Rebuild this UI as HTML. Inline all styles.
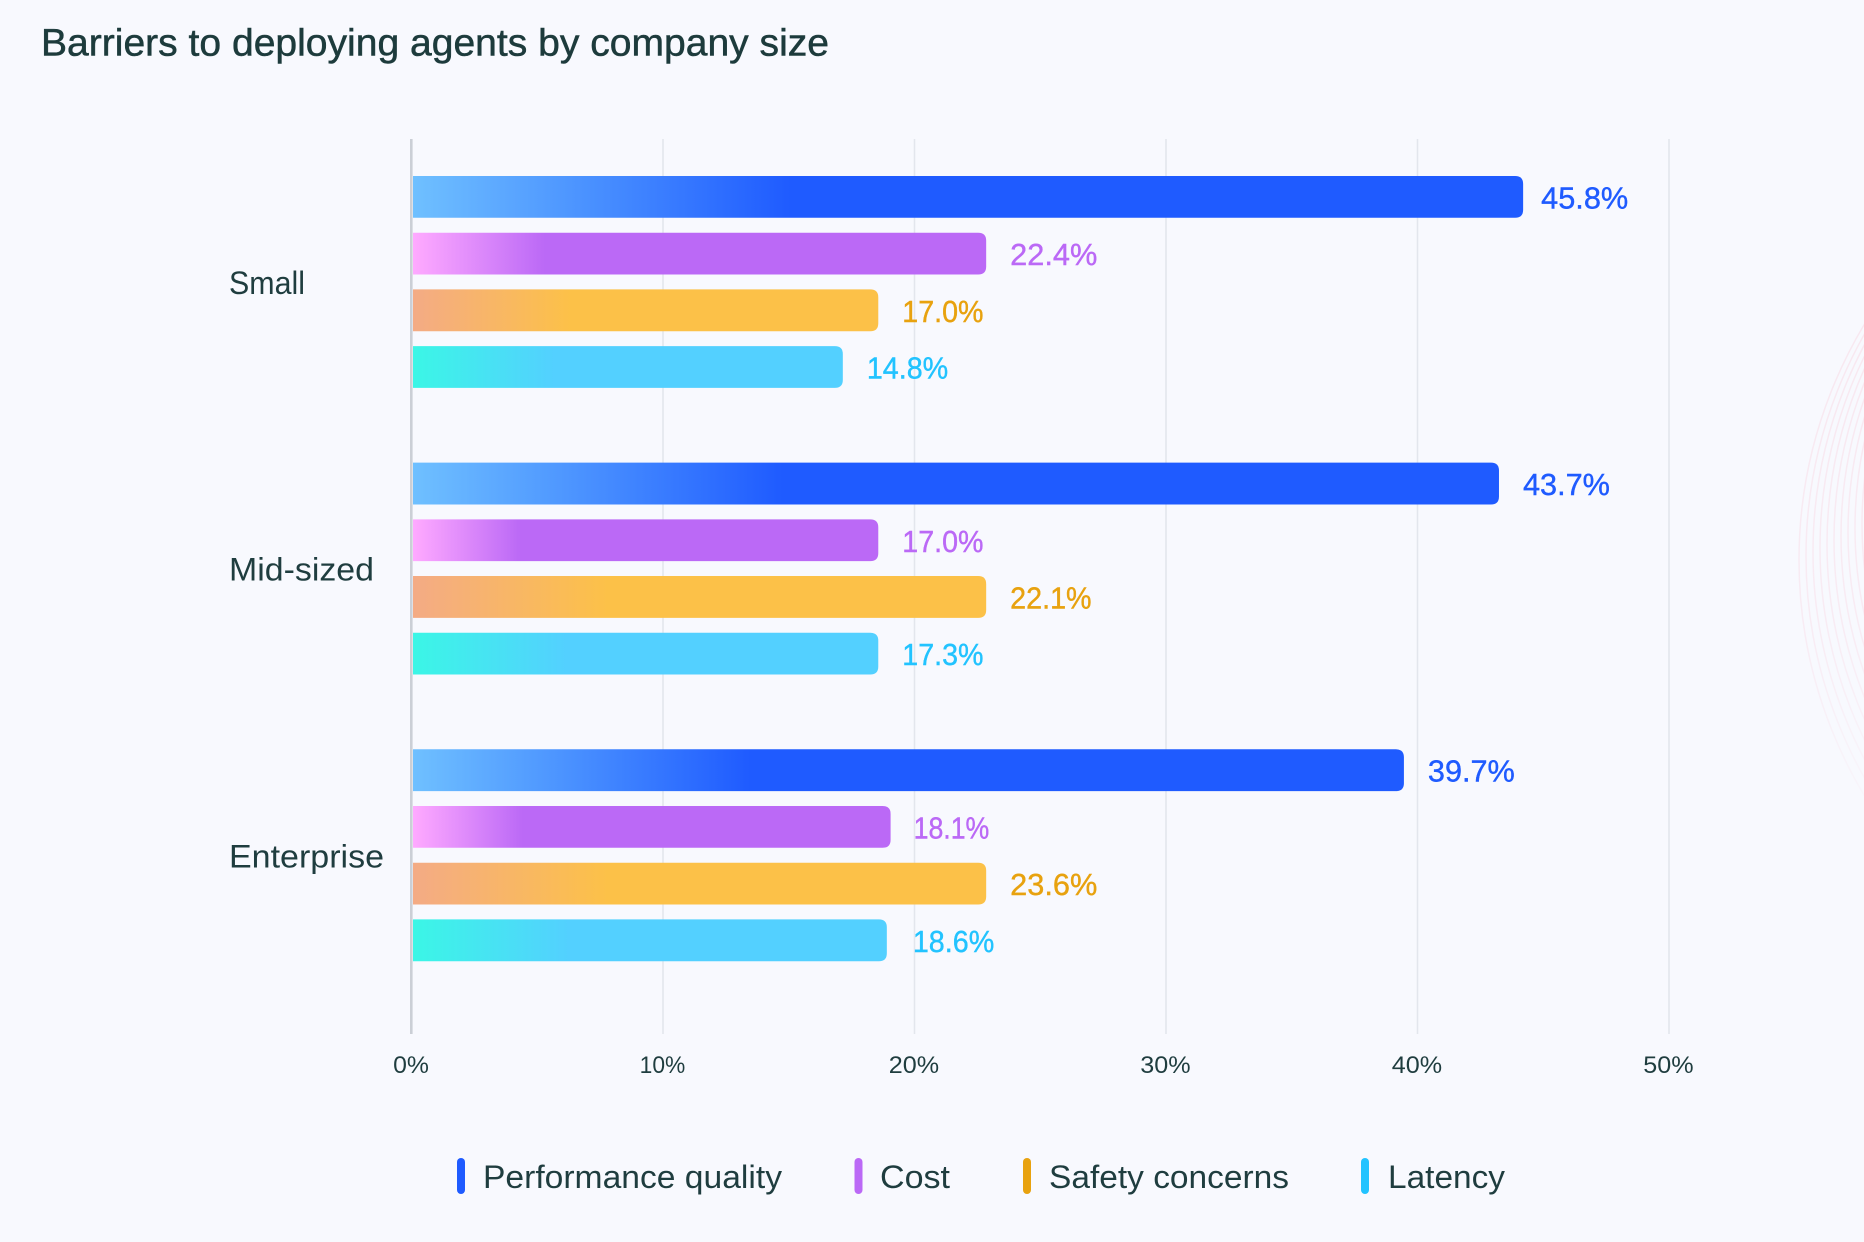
<!DOCTYPE html>
<html lang="en">
<head>
<meta charset="utf-8">
<title>Barriers to deploying agents by company size</title>
<style>
  html, body { margin: 0; padding: 0; background: #f8f9fe; }
  body { width: 1864px; height: 1242px; overflow: hidden; }
  svg { display: block; font-family: "Liberation Sans", sans-serif; }
</style>
</head>
<body>
<svg id="chart" xmlns="http://www.w3.org/2000/svg" width="1864" height="1242" viewBox="0 0 1864 1242">
  <defs>
    <linearGradient id="grad-performance" x1="0" y1="0" x2="1" y2="0">
      <stop offset="0" stop-color="#6fc0ff"/><stop offset="0.34" stop-color="#1f5bff"/><stop offset="1" stop-color="#1f5bff"/>
    </linearGradient>
    <linearGradient id="grad-cost" x1="0" y1="0" x2="1" y2="0">
      <stop offset="0" stop-color="#ffaaff"/><stop offset="0.23" stop-color="#bb69f6"/><stop offset="1" stop-color="#bb69f6"/>
    </linearGradient>
    <linearGradient id="grad-safety" x1="0" y1="0" x2="1" y2="0">
      <stop offset="0" stop-color="#f4ab85"/><stop offset="0.34" stop-color="#fcc148"/><stop offset="1" stop-color="#fcc148"/>
    </linearGradient>
    <linearGradient id="grad-latency" x1="0" y1="0" x2="1" y2="0">
      <stop offset="0" stop-color="#3bf6e6"/><stop offset="0.33" stop-color="#53d0ff"/><stop offset="1" stop-color="#53d0ff"/>
    </linearGradient>
    <linearGradient id="arc-fade" gradientUnits="userSpaceOnUse" x1="0" y1="320" x2="0" y2="860">
      <stop offset="0" stop-color="#f8e8f0"/><stop offset="0.55" stop-color="#f8ebf3"/><stop offset="1" stop-color="#f8f9fe"/>
    </linearGradient>
  </defs>

  <rect x="0" y="0" width="1864" height="1242" fill="#f8f9fe"/>
  <g id="decor" fill="none" stroke="url(#arc-fade)" stroke-width="1.5"></g>

  <text x="41" y="55.5" font-size="38" fill="#1d3b3c" stroke="#1d3b3c" stroke-width="0.5" textLength="788" lengthAdjust="spacingAndGlyphs">Barriers to deploying agents by company size</text>

  <g id="grid"></g>
  <g id="xticks"></g>
  <g id="cats"></g>
  <g id="bars"></g>
  <g id="labels"></g>
  <rect x="410" y="139" width="2.6" height="895" fill="#cbcfd6"/>

  <g font-size="32" fill="#1f3d3f">
    <g>
      <rect x="457" y="1158" width="8" height="36" rx="4" fill="#1f5bff"/>
      <text x="483" y="1188" textLength="299" lengthAdjust="spacingAndGlyphs">Performance quality</text>
    </g>
    <g>
      <rect x="854.5" y="1158" width="8" height="36" rx="4" fill="#bb69f6"/>
      <text x="880" y="1188" textLength="70" lengthAdjust="spacingAndGlyphs">Cost</text>
    </g>
    <g>
      <rect x="1023" y="1158" width="8" height="36" rx="4" fill="#e8a20f"/>
      <text x="1049" y="1188" textLength="240" lengthAdjust="spacingAndGlyphs">Safety concerns</text>
    </g>
    <g>
      <rect x="1361" y="1158" width="8" height="36" rx="4" fill="#22c3ff"/>
      <text x="1388" y="1188" textLength="117" lengthAdjust="spacingAndGlyphs">Latency</text>
    </g>
  </g>
</svg>

<script>
// Chart data: categories, drawn bar lengths, printed labels, ticks.
const categories = ["Small", "Mid-sized", "Enterprise"];
const seriesNames = ["performance-quality", "cost", "safety-concerns", "latency"];
const performanceValues = [44.2, 43.24, 39.46];
const costValues = [22.85, 18.56, 19.05];
const safetyValues = [18.56, 22.85, 22.85];
const latencyValues = [17.15, 18.56, 18.9];
const performanceLabels = ["45.8%", "43.7%", "39.7%"];
const costLabels = ["22.4%", "17.0%", "18.1%"];
const safetyLabels = ["17.0%", "22.1%", "23.6%"];
const latencyLabels = ["14.8%", "17.3%", "18.6%"];
const xTicks = [0, 10, 20, 30, 40, 50];

const SVGNS = "http://www.w3.org/2000/svg";
const seriesValues = [performanceValues, costValues, safetyValues, latencyValues];
const seriesLabels = [performanceLabels, costLabels, safetyLabels, latencyLabels];
const seriesFills = ["url(#grad-performance)", "url(#grad-cost)", "url(#grad-safety)", "url(#grad-latency)"];
const seriesText = ["#1f5bff", "#bb69f6", "#e8a20f", "#22c3ff"];

// Layout tuning (not data): widths of the category labels and small label nudges.
const categoryTextFit = { "Small": 76, "Mid-sized": 145, "Enterprise": 155 };
const labelNudge = { "45.8%": -6, "18.6%": 2, "18.1%": -1 };

// Axis functions
function xScale(v) { return 411.5 + v * 25.15; }
function groupTop(c) { return 176 + c * 286.65; }
function barTop(c, s) { return groupTop(c) + s * 56.7; }
const BAR_H = 41.8;
const BAR_X0 = 413;
const RADIUS = 8;

// Approximate advance widths of the numerals in the chart's typeface at 30px.
function numericWidth(str) {
  let w = 0;
  for (const ch of str) {
    if (ch === "1") w += 12;
    else if (ch === "7") w += 17.5;
    else if (ch === ".") w += 8;
    else if (ch === "%") w += 26;
    else w += 17.7;
  }
  return w;
}

function make(tag, parent) {
  const el = document.createElementNS(SVGNS, tag);
  parent.appendChild(el);
  return el;
}

const gridG = document.getElementById("grid");
const tickG = document.getElementById("xticks");
xTicks.forEach(function (t) {
  if (t !== 0) {
    const line = make("rect", gridG);
    
    
    line.setAttribute("x", xScale(t) - 0.8);
    line.setAttribute("y", 139);
    line.setAttribute("width", 1.6);
    line.setAttribute("height", 895);
    line.setAttribute("fill", "#e3e6ed");
  }
  const label = make("text", tickG);
  
  
  label.setAttribute("x", xScale(t) - 0.5);
  label.setAttribute("y", 1073);
  label.setAttribute("text-anchor", "middle");
  label.setAttribute("font-size", "24.5");
  label.setAttribute("fill", "#1f3d3f");
  label.setAttribute("textLength", numericWidth(t + "%") * 0.82);
  label.setAttribute("lengthAdjust", "spacingAndGlyphs");
  label.textContent = t + "%";
});

const catG = document.getElementById("cats");
categories.forEach(function (name, c) {
  const label = make("text", catG);
  
  
  label.setAttribute("x", 229);
  label.setAttribute("y", groupTop(c) + 118);
  label.setAttribute("font-size", "32");
  label.setAttribute("fill", "#1f3d3f");
  label.setAttribute("textLength", categoryTextFit[name]);
  label.setAttribute("lengthAdjust", "spacingAndGlyphs");
  label.textContent = name;
});

const barG = document.getElementById("bars");
const labelG = document.getElementById("labels");
categories.forEach(function (name, c) {
  seriesValues.forEach(function (values, s) {
    const right = xScale(values[c]);
    const top = barTop(c, s);
    const bottom = top + BAR_H;
    const d = "M" + BAR_X0 + " " + top +
      " H" + (right - RADIUS) +
      " Q" + right + " " + top + " " + right + " " + (top + RADIUS) +
      " V" + (bottom - RADIUS) +
      " Q" + right + " " + bottom + " " + (right - RADIUS) + " " + bottom +
      " H" + BAR_X0 + " Z";
    const bar = make("path", barG);
    
    
    bar.setAttribute("data-series", seriesNames[s]);
    bar.setAttribute("data-category", name);
    bar.setAttribute("d", d);
    bar.setAttribute("fill", seriesFills[s]);

    const text = seriesLabels[s][c];
    const label = make("text", labelG);
    
    
    label.setAttribute("x", right + 24 + (labelNudge[text] || 0));
    label.setAttribute("y", top + BAR_H / 2 + 11.5);
    label.setAttribute("font-size", "31");
    label.setAttribute("fill", seriesText[s]);
    label.setAttribute("stroke", seriesText[s]);
    label.setAttribute("stroke-width", "0.4");
    label.setAttribute("textLength", numericWidth(text));
    label.setAttribute("lengthAdjust", "spacingAndGlyphs");
    label.textContent = text;
  });
});

// Decorative concentric arcs on the right edge
const decor = document.getElementById("decor");
for (let i = 0; i < 10; i++) {
  const arc = make("circle", decor);
  
  
  arc.setAttribute("cx", 2256);
  arc.setAttribute("cy", 560 - i * 4);
  arc.setAttribute("r", 457 - i * 7);
}
</script>
</body>
</html>
